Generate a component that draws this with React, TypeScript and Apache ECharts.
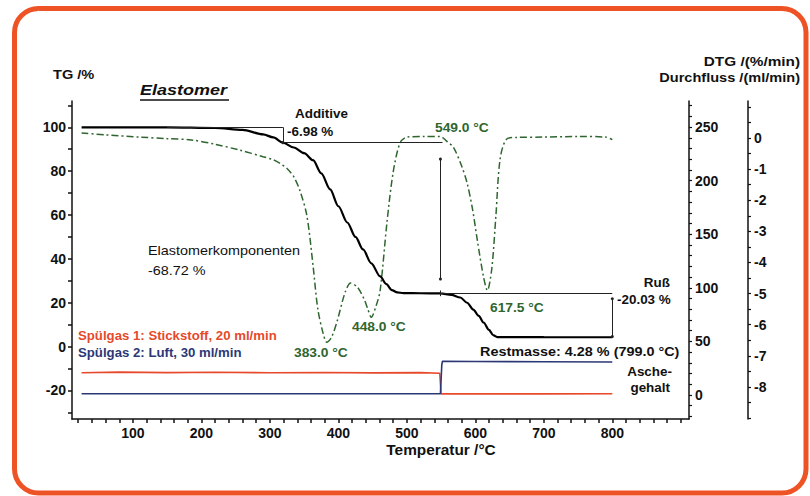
import React, { useEffect, useRef } from 'react';
import * as echarts from 'echarts';

// ---------- data ----------
const tempMin = 11;
const tempMax = 912;
const xLabelValues = [100, 200, 300, 400, 500, 600, 700, 800];
const xTickValues = [20, 40, 60, 80, 100, 120, 140, 160, 180, 200, 220, 240, 260, 280, 300, 320, 340, 360, 380, 400, 420, 440, 460, 480, 500, 520, 540, 560, 580, 600, 620, 640, 660, 680, 700, 720, 740, 760, 780, 800, 820, 840, 860, 880, 900];

const tgLabelValues = [-20, 0, 20, 40, 60, 80, 100];
const tgTickValues = [-30, -20, -10, 0, 10, 20, 30, 40, 50, 60, 70, 80, 90, 100, 110];
const flowLabelValues = [0, 50, 100, 150, 200, 250];
const flowTickValues = [-20, -10, 0, 10, 20, 30, 40, 50, 60, 70, 80, 90, 100, 110, 120, 130, 140, 150, 160, 170, 180, 190, 200, 210, 220, 230, 240, 250, 260, 270];
const dtgLabelValues = [0, -1, -2, -3, -4, -5, -6, -7, -8];
const dtgTickValues = [1, 0.5, 0, -0.5, -1, -1.5, -2, -2.5, -3, -3.5, -4, -4.5, -5, -5.5, -6, -6.5, -7, -7.5, -8, -8.5, -9];

const tgTemp = [25, 150, 220, 260, 290, 305, 319, 335, 350, 363, 375, 388, 400, 413, 425, 436, 448, 461, 470, 478, 486, 495, 520, 549, 565, 578, 588, 597, 605, 612, 620, 626, 632, 650, 700, 800];
const tgValues = [100, 100, 99.7, 98.8, 96.8, 95.4, 93.02, 90.8, 88.2, 85, 79, 71.7, 64, 56.6, 50, 44.3, 38, 32, 28.5, 25.8, 24.7, 24.4, 24.35, 24.3, 23.6, 22.4, 20, 16.9, 14, 11, 7.6, 5.2, 4.35, 4.3, 4.29, 4.28];

const dtgTemp = [25, 60, 110, 150, 185, 220, 256, 290, 305, 315, 325, 335, 344, 354, 363, 370, 378, 383, 390, 398, 410, 418, 428, 438, 443, 448, 455, 461, 471, 480, 490, 500, 525, 549, 558, 568, 580, 588, 596, 603, 612, 617.5, 624, 630, 636, 645, 660, 700, 750, 790, 800];
const dtgValues = [0.16, 0.1, 0.03, -0.02, -0.06, -0.2, -0.39, -0.6, -0.7, -0.82, -0.98, -1.25, -1.7, -2.5, -4.1, -5.5, -6.3, -6.56, -6.4, -5.9, -4.95, -4.66, -4.8, -5.2, -5.5, -5.76, -5.4, -4.9, -2.7, -1.1, -0.16, 0.03, 0.05, 0.05, -0.1, -0.3, -0.9, -1.45, -2.3, -3.3, -4.47, -4.9, -4.2, -2.5, -0.7, -0.05, 0.02, 0.03, 0.05, 0.03, -0.05];

const n2Temp = [25, 80, 150, 220, 300, 380, 450, 520, 548, 550, 600, 700, 800];
const n2Flow = [20.8, 21.3, 20.9, 21.2, 20.7, 21.0, 20.6, 20.9, 20.3, 1.0, 1.1, 1.0, 1.1];
const airTemp = [25, 300, 549, 551, 552, 600, 700, 800];
const airFlow = [1.2, 1.2, 1.2, 28, 31.5, 31.2, 31.0, 30.8];

// annotation levels (TG %)
const additiveStart = 150;
const additiveEnd = 319;
const tgAfterAdditive = 93.02;
const stepTemp = 549;
const tgAfterElastomer = 24.3;
const endTemp = 800;
const restMass = 4.28;

// ---------- styling ----------
const FONT = '"Liberation Sans", Arial, sans-serif';
const INK = '#111';
const GREEN = '#2f662f';
const RED = '#e6492b';
const NAVY = '#2c3876';

const zip = (a: number[], b: number[]) => a.map((v, i) => [v, b[i]]);

function txt(text: string, x: number, y: number, o: any = {}) {
  const align = o.align ?? 'left';
  return {
    type: 'text',
    x,
    y,
    scaleX: o.scaleX ?? 1.12,
    z: 20,
    style: {
      text,
      fill: o.color ?? INK,
      font: `${o.italic ? 'italic ' : ''}${o.weight ?? 'bold'} ${o.size ?? 12}px ${FONT}`,
      textAlign: align,
      align,
      textVerticalAlign: 'middle',
      verticalAlign: 'middle',
    },
  };
}

const axisLabelBase = {
  color: INK,
  fontWeight: 'bold' as const,
  fontSize: 14,
  fontFamily: FONT,
};

export default function App() {
  const ref = useRef<HTMLDivElement>(null);

  useEffect(() => {
    if (!ref.current) return;
    const chart = echarts.init(ref.current, undefined, { renderer: 'svg' });

    const thin = { color: '#222', width: 1, type: 'solid' };
    const dot = { symbol: 'circle', symbolSize: 3 };
    const none = { symbol: 'none' };

    chart.setOption({
      animation: false,
      backgroundColor: '#ffffff',
      grid: { left: 72, right: 121, top: 101, bottom: 77, containLabel: false },
      xAxis: {
        type: 'value',
        min: tempMin,
        max: tempMax,
        splitLine: { show: false },
        axisLine: { show: true, onZero: false, lineStyle: { color: INK, width: 1.5 } },
        axisTick: { show: true, customValues: xTickValues, length: 4, lineStyle: { color: INK, width: 1.5 } },
        axisLabel: { ...axisLabelBase, customValues: xLabelValues, margin: 7 },
      },
      yAxis: [
        {
          type: 'value',
          position: 'left',
          min: -33,
          max: 112,
          splitLine: { show: false },
          axisLine: { show: true, onZero: false, lineStyle: { color: INK, width: 1.5 } },
          axisTick: { show: true, customValues: tgTickValues, length: 4, lineStyle: { color: INK, width: 1.5 } },
          axisLabel: { ...axisLabelBase, customValues: tgLabelValues, margin: 6 },
        },
        {
          type: 'value',
          position: 'right',
          offset: 0,
          min: -22.4,
          max: 274.3,
          splitLine: { show: false },
          axisLine: { show: true, onZero: false, lineStyle: { color: INK, width: 1.5 } },
          axisTick: { show: true, customValues: flowTickValues, length: 3, lineStyle: { color: INK, width: 1.2 } },
          axisLabel: { ...axisLabelBase, customValues: flowLabelValues, margin: 6 },
        },
        {
          type: 'value',
          position: 'right',
          offset: 59,
          min: -9.03,
          max: 1.19,
          splitLine: { show: false },
          axisLine: { show: true, onZero: false, lineStyle: { color: INK, width: 1.5 } },
          axisTick: { show: true, customValues: dtgTickValues, length: 3, lineStyle: { color: INK, width: 1.2 } },
          axisLabel: { ...axisLabelBase, customValues: dtgLabelValues, margin: 6 },
        },
      ],
      series: [
        {
          name: 'Spülgas 1',
          type: 'line',
          yAxisIndex: 1,
          data: zip(n2Temp, n2Flow),
          showSymbol: false,
          lineStyle: { color: RED, width: 1.6 },
          z: 2,
        },
        {
          name: 'Spülgas 2',
          type: 'line',
          yAxisIndex: 1,
          data: zip(airTemp, airFlow),
          showSymbol: false,
          lineStyle: { color: NAVY, width: 1.6 },
          z: 2,
        },
        {
          name: 'DTG',
          type: 'line',
          yAxisIndex: 2,
          data: zip(dtgTemp, dtgValues),
          showSymbol: false,
          smooth: 0.3,
          lineStyle: { color: GREEN, width: 1.5, type: [7, 3, 2, 3] },
          z: 3,
        },
        {
          name: 'TG',
          type: 'line',
          yAxisIndex: 0,
          data: zip(tgTemp, tgValues),
          showSymbol: false,
          smooth: 0.3,
          smoothMonotone: 'x',
          lineStyle: { color: '#000', width: 2.2 },
          z: 4,
          markLine: {
            silent: true,
            animation: false,
            symbol: 'none',
            label: { show: false },
            lineStyle: thin,
            data: [
              [{ coord: [additiveStart, 100], ...none }, { coord: [additiveEnd, 100], ...none }],
              [{ coord: [additiveEnd, 100], ...none }, { coord: [additiveEnd, tgAfterAdditive], ...dot }],
              [{ coord: [additiveEnd, tgAfterAdditive], ...none }, { coord: [stepTemp + 3, tgAfterAdditive], ...none }],
              [{ coord: [stepTemp, 85.5], ...dot }, { coord: [stepTemp, 30.8], ...dot }],
              [{ coord: [stepTemp, tgAfterElastomer], ...none }, { coord: [endTemp, tgAfterElastomer], ...none }],
              [{ coord: [stepTemp, tgAfterElastomer + 1.3], ...none }, { coord: [stepTemp, tgAfterElastomer - 1.3], ...none }],
              [{ coord: [endTemp, 21.8], ...dot }, { coord: [endTemp, restMass + 0.3], ...dot }],
            ],
          },
        },
      ],
      graphic: {
        elements: [
          {
            type: 'rect',
            z: 30,
            shape: { x: 14.5, y: 8.5, width: 791.5, height: 484.5, r: 24 },
            style: { fill: 'none', stroke: '#ee5326', lineWidth: 5 },
          },
          txt('TG /%', 53, 75, { size: 13 }),
          txt('DTG /(%/min)', 800, 61, { size: 13, align: 'right', scaleX: 1.18 }),
          txt('Durchfluss /(ml/min)', 800, 78, { size: 13, align: 'right' }),
          txt('Elastomer', 140, 90, { size: 15, italic: true, scaleX: 1.2 }),
          { type: 'line', z: 20, shape: { x1: 140, y1: 100, x2: 229, y2: 100 }, style: { stroke: INK, lineWidth: 1.5 } },
          txt('Additive', 295, 114),
          txt('-6.98 %', 287, 132),
          txt('549.0 °C', 435, 128, { color: GREEN, scaleX: 1.15 }),
          txt('Elastomerkomponenten', 148, 251, { weight: 'normal', scaleX: 1.2 }),
          txt('-68.72 %', 148, 271, { weight: 'normal', scaleX: 1.2 }),
          txt('448.0 °C', 352, 327, { color: GREEN, scaleX: 1.15 }),
          txt('383.0 °C', 294, 353, { color: GREEN, scaleX: 1.15 }),
          txt('617.5 °C', 490, 308, { color: GREEN, scaleX: 1.15 }),
          txt('Ruß', 670, 283, { align: 'right' }),
          txt('-20.03 %', 617, 300),
          txt('Restmasse: 4.28 % (799.0 °C)', 480, 352, { scaleX: 1.2 }),
          txt('Asche-', 672, 372, { align: 'right' }),
          txt('gehalt', 670, 388, { align: 'right' }),
          txt('Spülgas 1: Stickstoff, 20 ml/min', 78, 336, { color: RED, scaleX: 1.1 }),
          txt('Spülgas 2: Luft, 30 ml/min', 78, 353, { color: NAVY, scaleX: 1.1 }),
          txt('Temperatur /°C', 441, 450, { size: 14, align: 'center', scaleX: 1.1 }),
        ],
      },
    });

    return () => chart.dispose();
  }, []);

  return (
    <div
      ref={ref}
      style={{ position: 'fixed', left: 0, top: 0, width: 810, height: 496, background: '#fff' }}
    />
  );
}
